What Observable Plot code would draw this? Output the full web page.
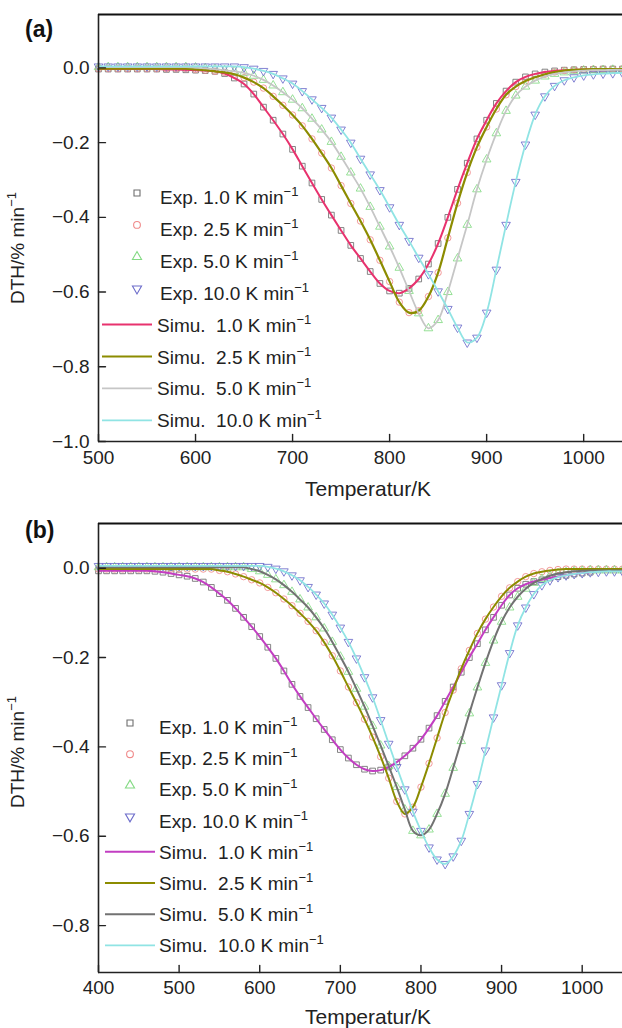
<!DOCTYPE html>
<html><head><meta charset="utf-8">
<script src="https://cdn.jsdelivr.net/npm/d3@7"></script>
<script src="https://cdn.jsdelivr.net/npm/@observablehq/plot@0.6"></script>
<style>
body{margin:0;background:#fff;font-family:"Liberation Sans",Arial,sans-serif;}
#wrap{width:622px;}
#wrap svg{display:block;}
</style></head><body><div id="wrap"></div>
<script>
// ---------- data ----------
const rates = ["1.0", "2.5", "5.0", "10.0"];
const tempA = d3.range(500, 1041, 10);   // K, panel (a)
const tempB = d3.range(400, 1051, 10);   // K, panel (b)

// panel (a) DTH (%/min)
const dthA_1 = [-0.003,-0.003,-0.003,-0.003,-0.003,-0.003,-0.003,-0.004,-0.004,-0.005,-0.006,-0.007,-0.009,
  -0.015,-0.027,-0.043,-0.07,-0.105,-0.14,-0.177,-0.218,-0.263,-0.308,-0.352,-0.394,-0.435,-0.475,-0.51,-0.545,-0.577,
  -0.597,-0.603,-0.59,-0.565,-0.525,-0.47,-0.40,-0.325,-0.255,-0.19,-0.14,-0.095,-0.062,-0.038,-0.024,-0.016,-0.011,
  -0.008,-0.006,-0.005,-0.004,-0.004,-0.003,-0.003,-0.003];
const dthA_25 = [-0.002,-0.002,-0.002,-0.002,-0.002,-0.002,-0.002,-0.002,-0.002,-0.002,
  -0.004,-0.006,-0.009,-0.012,-0.017,-0.026,-0.038,-0.054,-0.076,-0.1,-0.126,-0.155,-0.19,-0.228,-0.268,-0.315,-0.363,
  -0.41,-0.46,-0.515,-0.572,-0.627,-0.655,-0.65,-0.612,-0.548,-0.455,-0.362,-0.28,-0.212,-0.158,-0.11,-0.072,-0.05,
  -0.035,-0.025,-0.017,-0.011,-0.007,-0.005,-0.004,-0.003,-0.003,-0.003,-0.003];
const dthA_5 = [0.002,0.002,0.002,0.002,0.002,0.002,0.002,0.002,0.002,0.002,
  0.001,-0.001,-0.003,-0.006,-0.009,-0.013,-0.021,-0.032,-0.047,-0.065,-0.085,-0.108,-0.136,-0.165,-0.198,-0.238,-0.28,
  -0.323,-0.372,-0.425,-0.478,-0.535,-0.597,-0.657,-0.697,-0.675,-0.6,-0.51,-0.42,-0.325,-0.245,-0.175,-0.115,-0.074,
  -0.05,-0.034,-0.023,-0.016,-0.012,-0.009,-0.007,-0.006,-0.006,-0.005,-0.005];
const dthA_10 = [0.004,0.004,0.004,0.004,0.004,0.004,0.004,0.004,0.004,0.004,0.004,0.004,0.004,0.004,0.004,
  0.002,-0.002,-0.008,-0.016,-0.028,-0.042,-0.062,-0.084,-0.107,-0.133,-0.165,-0.2,-0.243,-0.285,-0.327,-0.373,-0.42,
  -0.463,-0.508,-0.552,-0.598,-0.645,-0.695,-0.735,-0.722,-0.655,-0.54,-0.42,-0.305,-0.205,-0.125,-0.076,-0.048,
  -0.033,-0.025,-0.02,-0.017,-0.015,-0.014,-0.013];

// panel (b) DTH (%/min)
const dthB_1 = [-0.006,-0.006,-0.006,-0.006,-0.006,-0.006,-0.006,
  -0.007,-0.009,-0.012,-0.015,-0.018,-0.023,-0.031,-0.043,-0.057,-0.072,-0.09,-0.11,-0.131,-0.153,-0.177,-0.202,-0.23,
  -0.26,-0.287,-0.312,-0.337,-0.361,-0.384,-0.406,-0.425,-0.44,-0.45,-0.454,-0.452,-0.445,-0.434,-0.42,-0.403,-0.383,
  -0.358,-0.33,-0.298,-0.266,-0.233,-0.2,-0.169,-0.138,-0.11,-0.083,-0.06,-0.045,-0.036,-0.03,-0.026,-0.022,-0.019,
  -0.016,-0.013,-0.011,-0.009,null,null,null,null];
const dthB_25 = [-0.002,-0.002,-0.002,-0.002,-0.002,-0.002,-0.002,-0.002,-0.002,-0.002,-0.002,-0.002,-0.002,-0.002,-0.002,
  -0.005,-0.008,-0.013,-0.019,-0.026,-0.033,-0.043,-0.055,-0.069,-0.084,-0.101,-0.119,-0.14,-0.166,-0.196,-0.23,-0.266,
  -0.301,-0.338,-0.378,-0.422,-0.47,-0.522,-0.55,-0.535,-0.49,-0.437,-0.38,-0.323,-0.273,-0.225,-0.184,-0.146,-0.114,
  -0.087,-0.063,-0.044,-0.03,-0.019,-0.012,-0.008,-0.005,-0.003,-0.002,-0.002,-0.002,-0.002,-0.002,-0.002,-0.002,-0.002];
const dthB_5 = [0.002,0.002,0.002,0.002,0.002,0.002,0.002,0.002,0.002,0.002,0.002,0.002,0.002,0.002,0.002,0.002,0.002,0.002,0.002,
  -0.002,-0.007,-0.015,-0.025,-0.038,-0.053,-0.07,-0.088,-0.11,-0.135,-0.165,-0.198,-0.232,-0.27,-0.31,-0.353,-0.397,
  -0.443,-0.49,-0.54,-0.588,-0.598,-0.585,-0.55,-0.505,-0.447,-0.387,-0.325,-0.267,-0.212,-0.162,-0.12,-0.088,-0.064,
  -0.046,-0.033,-0.024,-0.017,-0.012,-0.009,-0.007,-0.006,-0.005,-0.005,-0.005,-0.005,-0.005];
const dthB_10 = [0.005,0.005,0.005,0.005,0.005,0.005,0.005,0.005,0.005,0.005,0.005,0.005,0.005,0.005,0.005,0.005,0.005,0.005,0.005,0.005,0.005,
  0.003,-0.001,-0.007,-0.016,-0.027,-0.042,-0.059,-0.079,-0.104,-0.133,-0.165,-0.202,-0.244,-0.289,-0.34,-0.393,-0.445,
  -0.495,-0.545,-0.588,-0.625,-0.652,-0.662,-0.645,-0.61,-0.55,-0.483,-0.408,-0.334,-0.262,-0.19,-0.128,-0.088,-0.058,
  -0.038,-0.027,-0.02,-0.016,-0.013,-0.011,-0.009,-0.008,-0.007,-0.007,-0.007];

const xTicksA = [500, 600, 700, 800, 900, 1000];
const yTicksA = [0, -0.2, -0.4, -0.6, -0.8, -1.0];
const xTicksB = [400, 500, 600, 700, 800, 900, 1000];
const yTicksB = [0, -0.2, -0.4, -0.6, -0.8];

// ---------- styles ----------
const expColors = ["#6e6e6e", "#f08a8a", "#84da84", "#6c6cca"];
const expSymbols = ["square", "circle", "triangle", "triangle"];
const expRotate = [0, 0, 0, 180];
const simuColorsA = ["#e8326e", "#8c8c00", "#c6c6c6", "#90e4e4"];
const simuColorsB = ["#c23ec2", "#8c8c00", "#727272", "#90e4e4"];
const FONT = "Liberation Sans, Arial, sans-serif";

const tickShape = {draw(context, l) { context.moveTo(0, 0); context.lineTo(0, -l); }};

function makePanel(cfg) {
  const series = cfg.values.map((vals, i) =>
    cfg.temps.map((T, j) => ({T, v: vals[j], rate: rates[i]})).filter(d => d.v !== null));
  const marks = [];
  series.forEach((rows, i) => {
    marks.push(Plot.dot(rows, {x: "T", y: "v", symbol: expSymbols[i], rotate: expRotate[i], r: 3.2,
      stroke: expColors[i], strokeWidth: 1, fill: "none", strokeOpacity: 0.85}));
  });
  series.forEach((rows, i) => {
    marks.push(Plot.line(rows, {x: "T", y: "v", stroke: cfg.simuColors[i], strokeWidth: cfg.lineWidths[i], curve: "catmull-rom"}));
  });
  marks.push(
    Plot.ruleX([cfg.xDomain[0]], {stroke: "#222", strokeWidth: 1.6}),
    Plot.ruleY([cfg.yDomain[0]], {stroke: "#222", strokeWidth: 1.6}),
    Plot.ruleY([cfg.yDomain[1]], {stroke: "#111", strokeWidth: 2}),
    Plot.vector(cfg.xTicks, {x: d => d, frameAnchor: "bottom", length: 7, rotate: 0, anchor: "start", shape: tickShape, stroke: "#222", strokeWidth: 1.4}),
    Plot.vector(cfg.yTicks, {y: d => d, frameAnchor: "left", length: 7, rotate: 90, anchor: "start", shape: tickShape, stroke: "#222", strokeWidth: 1.4}),
    Plot.axisX(cfg.xTicks, {tickSize: 0, tickPadding: cfg.xTickPad, label: null, tickFormat: d => String(d), fill: "#222"}),
    Plot.axisY(cfg.yTicks, {tickSize: 0, tickPadding: 9, label: null, tickFormat: d => d3.format(".1f")(d), fill: "#222"})
  );
  const svg = Plot.plot({
    width: 622, height: cfg.height,
    marginLeft: 98, marginRight: 0, marginTop: cfg.marginTop, marginBottom: cfg.marginBottom,
    x: {domain: cfg.xDomain},
    y: {domain: cfg.yDomain},
    style: {fontFamily: FONT, fontSize: "19px", color: "#222", background: "#fff", overflow: "visible"},
    marks
  });
  const s = d3.select(svg);
  // panel letter
  s.append("text").attr("x", 25).attr("y", cfg.letterY).attr("text-anchor", "start").attr("font-family", FONT)
    .attr("font-size", 23).attr("font-weight", "bold").attr("fill", "#111").text(cfg.letter);
  // y label
  const yl = s.append("text").attr("transform", `translate(24,${cfg.yLabelY}) rotate(-90)`)
    .attr("text-anchor", "middle").attr("font-family", FONT).attr("font-size", 19).attr("fill", "#222");
  yl.append("tspan").text("DTH/% min");
  yl.append("tspan").attr("dy", -8).attr("font-size", 13).text("\u22121");
  // x label
  s.append("text").attr("x", 368).attr("y", cfg.xLabelY).attr("text-anchor", "middle")
    .attr("font-family", FONT).attr("font-size", 21).attr("fill", "#222").text("Temperatur/K");
  // legend
  const g = s.append("g").attr("font-family", FONT).attr("font-size", 19).attr("fill", "#222").attr("text-anchor", "start");
  const rowsL = [];
  rates.forEach((r, i) => rowsL.push({kind: "exp", i, label: `Exp. ${r} K min`}));
  rates.forEach((r, i) => rowsL.push({kind: "simu", i, label: `Simu.  ${r} K min`}));
  rowsL.forEach((row, k) => {
    const y = cfg.legendY0 + k * cfg.legendDy;
    if (row.kind === "exp") {
      const sym = {square: d3.symbolSquare, circle: d3.symbolCircle, triangle: d3.symbolTriangle}[expSymbols[row.i]];
      g.append("path").attr("d", d3.symbol(sym, 36)())
        .attr("transform", `translate(${cfg.markX},${y - 4}) rotate(${expRotate[row.i]})`)
        .attr("fill", "none").attr("stroke", expColors[row.i]).attr("stroke-width", 1.1);
    } else {
      g.append("line").attr("x1", cfg.lineX1).attr("x2", cfg.lineX2).attr("y1", y).attr("y2", y)
        .attr("stroke", cfg.simuColors[row.i]).attr("stroke-width", cfg.lineWidths[row.i]);
    }
    const t = g.append("text").attr("x", row.kind === "exp" ? cfg.expTextX : cfg.textX).attr("y", y + 7)
      .attr("text-anchor", "start").style("white-space", "pre");
    t.append("tspan").text(row.label);
    t.append("tspan").attr("dy", -8).attr("font-size", 13).text("\u22121");
  });
  return svg;
}

const wrap = document.getElementById("wrap");
wrap.appendChild(makePanel({
  letter: "(a)", letterY: 37, height: 500, marginTop: 14, marginBottom: 59,
  temps: tempA, values: [dthA_1, dthA_25, dthA_5, dthA_10],
  xDomain: [500, 1040], yDomain: [-1.0, 0.143], xTicks: xTicksA, yTicks: yTicksA,
  simuColors: simuColorsA, lineWidths: [2, 2.2, 1.8, 1.8], xTickPad: 9,
  yLabelY: 248, xLabelY: 496,
  legendY0: 197, legendDy: 31.9, markX: 137, lineX1: 102, lineX2: 152, textX: 157, expTextX: 160
}));
wrap.appendChild(makePanel({
  letter: "(b)", letterY: 38, height: 528, marginTop: 23, marginBottom: 56,
  temps: tempB, values: [dthB_1, dthB_25, dthB_5, dthB_10],
  xDomain: [400, 1050], yDomain: [-0.905, 0.1], xTicks: xTicksB, yTicks: yTicksB,
  simuColors: simuColorsB, lineWidths: [2, 2, 2, 1.8], xTickPad: 8,
  yLabelY: 252, xLabelY: 524,
  legendY0: 227, legendDy: 31.2, markX: 130, lineX1: 105, lineX2: 155, textX: 159, expTextX: 159
}));
</script></body></html>
